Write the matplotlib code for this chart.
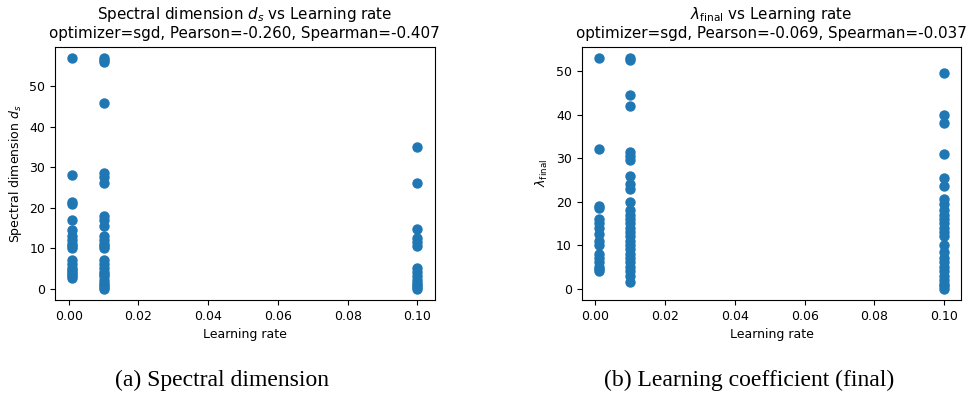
import numpy as np
import matplotlib
matplotlib.use("Agg")
import matplotlib.pyplot as plt

# learning rates and values
lr_ds_001 = [57, 28, 21.5, 21, 17, 14.5, 13, 12, 11, 10.5, 10, 7, 6, 5, 4.5, 4, 3.5, 3, 2.5]
lr_ds_01 = [57, 56.5, 56, 46, 28.5, 27.5, 26, 18, 17, 15.5, 13, 12, 11, 10.5, 10,
            7, 6, 5, 4, 3.5, 3, 2, 1.5, 1, 0.5, 0]
lr_ds_1 = [35, 26, 14.8, 12.5, 11.5, 10.5, 5, 4, 3, 2, 1.5, 1, 0.5, 0]

lam_001 = [53, 32, 19, 18.5, 16, 15, 14, 12.5, 11, 10, 8, 7, 6, 5, 4.5, 4]
lam_01 = [53, 52.5, 44.5, 42, 31.5, 30.5, 29.5, 26, 24, 23, 20, 18, 17, 16, 15, 14,
          13, 12, 11, 10, 9, 8, 7, 6, 5, 4, 3, 1.5]
lam_1 = [49.5, 40, 38, 31, 25.5, 23.5, 20.5, 19.5, 18, 17, 16, 15, 14, 13, 12, 10,
         8.5, 7, 6, 5, 4, 3, 2, 1, 0.5, 0]

def stack(a, b, c):
    x = [0.001] * len(a) + [0.01] * len(b) + [0.1] * len(c)
    return np.array(x), np.array(a + b + c)

x1, y1 = stack(lr_ds_001, lr_ds_01, lr_ds_1)
x2, y2 = stack(lam_001, lam_01, lam_1)

fs = 9
tfs = 10.9
fig = plt.figure(figsize=(9.71, 3.98), dpi=100)
ax1 = fig.add_axes([0.0566, 0.246, 0.391, 0.637])
ax2 = fig.add_axes([0.599, 0.246, 0.391, 0.637])

ax1.scatter(x1, y1, s=42, color="#1f77b4")
ax1.set_title("Spectral dimension $d_s$ vs Learning rate\n"
              "optimizer=sgd, Pearson=-0.260, Spearman=-0.407", fontsize=tfs)
ax1.set_xlabel("Learning rate", fontsize=fs)
ax1.set_ylabel("Spectral dimension $d_s$", fontsize=fs)

ax2.scatter(x2, y2, s=42, color="#1f77b4")
ax2.set_title("$\\lambda_{\\mathrm{final}}$ vs Learning rate\n"
              "optimizer=sgd, Pearson=-0.069, Spearman=-0.037", fontsize=tfs)
ax2.set_xlabel("Learning rate", fontsize=fs)
ax2.set_ylabel("$\\lambda_{\\mathrm{final}}$", fontsize=fs)

for ax in (ax1, ax2):
    ax.tick_params(labelsize=fs)

fig.text(0.229, 0.043, "(a) Spectral dimension", ha="center", va="center",
         family="Liberation Serif", fontsize=17)
fig.text(0.772, 0.043, "(b) Learning coefficient (final)", ha="center", va="center",
         family="Liberation Serif", fontsize=17)

fig.savefig("out.png", dpi=100)
